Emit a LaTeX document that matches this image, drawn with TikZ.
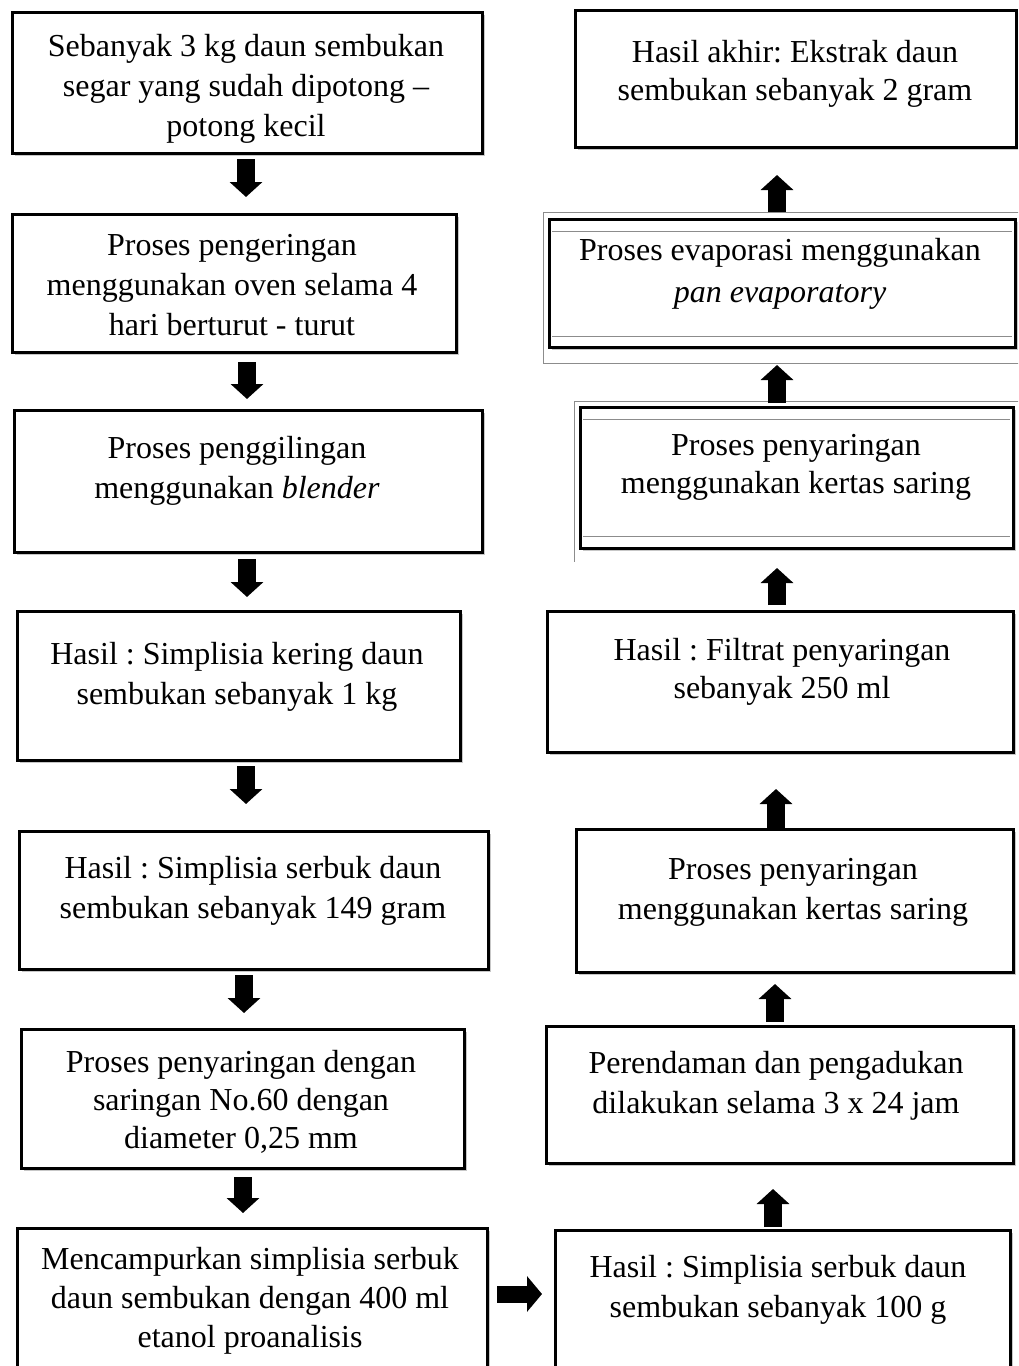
\documentclass[tikz,border=0pt]{standalone}
\usepackage{fontspec}
\setmainfont{Liberation Serif}
\usetikzlibrary{fit,shadows,arrows.meta}
\frenchspacing
\tikzset{
  box/.style={draw=black, line width=3pt, fill=white, inner sep=0pt, outer sep=0pt,
    drop shadow={shadow xshift=3pt, shadow yshift=-3pt, fill=black, opacity=0.22}},
  txt/.style={anchor=north, inner sep=0pt, align=center, font=\fontsize{32}{40}\selectfont},
  thinframe/.style={draw=black!45, line width=1pt},
  barrow/.style={line width=18pt, -{Triangle[width=32pt,length=15pt]}},
  rarrow/.style={line width=17pt, -{Triangle[width=35pt,length=15pt]}},
}
\newcommand{\fs}{\rule{0pt}{30pt}}
\begin{document}
\begin{tikzpicture}[x=1pt,y=-1pt]
\useasboundingbox (0,0) rectangle (1018,1366);
\begin{scope}
\clip (0,0) rectangle (1018,1366);
% thin frames
\draw[thinframe] (1020,212) -- (543,212) -- (543,363) -- (1020,363);
\draw[thinframe] (1020,401) -- (574,401) -- (574,562);
% left column boxes
\node[box, fit={(12,12) (482,153)}] (b1) {};
\node[box, fit={(12,214) (456,352)}] (b2) {};
\node[box, fit={(14,410) (482,552)}] (b3) {};
\node[box, fit={(17,611) (460,760)}] (b4) {};
\node[box, fit={(19,831) (488,969)}] (b5) {};
\node[box, fit={(21,1029) (464,1168)}] (b6) {};
\node[box, fit={(17,1228) (487,1385)}] (b7) {};
% right column boxes
\node[box, fit={(575,10) (1016,147)}] (r1) {};
\node[box, fit={(549,219) (1015,347)}] (r2) {};
\node[box, fit={(580,407) (1013,548)}] (r3) {};
\node[box, fit={(547,611) (1013,752)}] (r4) {};
\node[box, fit={(576,829) (1013,972)}] (r5) {};
\node[box, fit={(546,1026) (1013,1163)}] (r6) {};
\node[box, fit={(555,1230) (1010,1385)}] (r7) {};
% inner thin lines
\draw[thinframe] (552,231) -- (1012,231);
\draw[thinframe] (552,336) -- (1012,336);
\draw[thinframe] (583,419) -- (1010,419);
\draw[thinframe] (583,536) -- (1010,536);
% texts
\node[txt] (t1) at (246,26) {\fs Sebanyak 3 kg daun sembukan\\segar yang sudah dipotong –\\potong kecil};
\node[txt] (t2) at (232,225) {\fs Proses pengeringan\\menggunakan oven selama 4\\hari berturut - turut};
\node[txt] (t3) at (237,428) {\fs Proses penggilingan\\menggunakan \textit{blender}};
\node[txt] (t4) at (237,634) {\fs Hasil : Simplisia kering daun\\sembukan sebanyak 1 kg};
\node[txt] (t5) at (253,848) {\fs Hasil : Simplisia serbuk daun\\sembukan sebanyak 149 gram};
\node[txt, font=\fontsize{32}{38}\selectfont] (t6) at (241,1042) {\fs Proses penyaringan dengan\\saringan No.60 dengan\\diameter 0,25 mm};
\node[txt, font=\fontsize{32}{39}\selectfont] (t7) at (250,1239) {\fs Mencampurkan simplisia serbuk\\daun sembukan dengan 400 ml\\etanol proanalisis};
\node[txt, font=\fontsize{32}{38}\selectfont] (s1) at (795,32) {\fs Hasil akhir: Ekstrak daun\\sembukan sebanyak 2 gram};
\node[txt, font=\fontsize{32}{42}\selectfont] (s2) at (780,230) {\fs Proses evaporasi menggunakan\\\textit{pan evaporatory}};
\node[txt, font=\fontsize{32}{38}\selectfont] (s3) at (796,425) {\fs Proses penyaringan\\menggunakan kertas saring};
\node[txt, font=\fontsize{32}{38}\selectfont] (s4) at (782,630) {\fs Hasil : Filtrat penyaringan\\sebanyak 250 ml};
\node[txt] (s5) at (793,849) {\fs Proses penyaringan\\menggunakan kertas saring};
\node[txt] (s6) at (776,1043) {\fs Perendaman dan pengadukan\\dilakukan selama 3 x 24 jam};
\node[txt] (s7) at (778,1247) {\fs Hasil : Simplisia serbuk daun\\sembukan sebanyak 100 g};
% arrow coordinates
\coordinate (a1s) at (246,159);  \coordinate (a1e) at (246,197);
\coordinate (a2s) at (247,362);  \coordinate (a2e) at (247,399);
\coordinate (a3s) at (247,559);  \coordinate (a3e) at (247,597);
\coordinate (a4s) at (246,766);  \coordinate (a4e) at (246,804);
\coordinate (a5s) at (244,975);  \coordinate (a5e) at (244,1013);
\coordinate (a6s) at (243,1177); \coordinate (a6e) at (243,1213);
\coordinate (u1s) at (777,212);  \coordinate (u1e) at (777,175);
\coordinate (u2s) at (777,403);  \coordinate (u2e) at (777,365);
\coordinate (u3s) at (777,605);  \coordinate (u3e) at (777,568);
\coordinate (u4s) at (776,828);  \coordinate (u4e) at (776,789);
\coordinate (u5s) at (775,1022); \coordinate (u5e) at (775,984);
\coordinate (u6s) at (773,1227); \coordinate (u6e) at (773,1189);
\coordinate (hs) at (497,1294);  \coordinate (he) at (542,1294);
\foreach \a in {a1,a2,a3,a4,a5,a6,u1,u2,u3,u4,u5,u6}
  \draw[barrow] (\a s) -- (\a e);
\draw[rarrow] (hs) -- (he);
\end{scope}
\end{tikzpicture}
\end{document}
